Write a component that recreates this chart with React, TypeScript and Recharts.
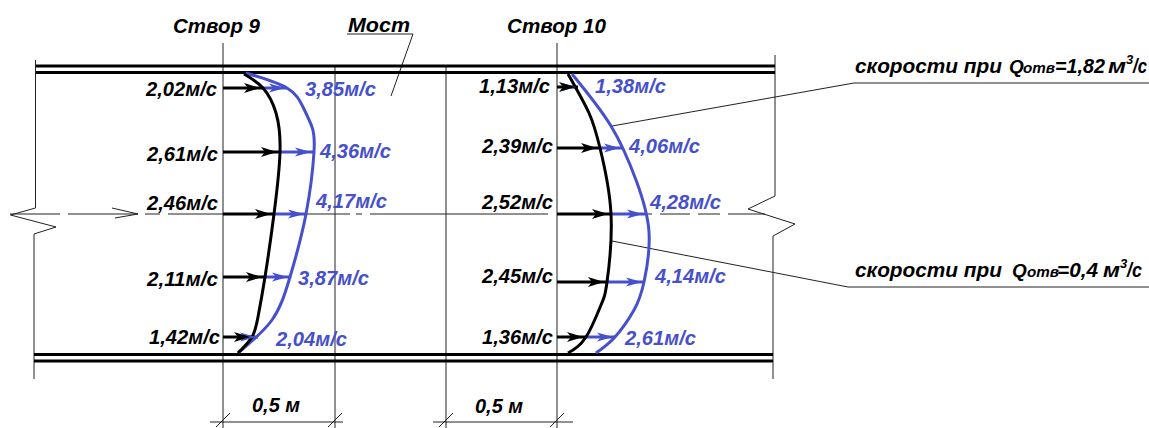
import { ComposedChart, Line, Scatter, XAxis, YAxis } from 'recharts'

const WIDTH = 1149
const HEIGHT = 428
const BLACK = '#000000'
const BLUE = '#4650cc'
const FONT = '"Liberation Sans", Arial, sans-serif'

type Pt = { x: number; y: number }
const pts = (xs: number[], ys: number[]): Pt[] => xs.map((x, i) => ({ x, y: ys[i] }))
const fmt = (v: number) => v.toFixed(2).replace('.', ',') + 'м/с'

// measured velocities, m/s, top to bottom
const lowFlow9 = [2.02, 2.61, 2.46, 2.11, 1.42]
const highFlow9 = [3.85, 4.36, 4.17, 3.87, 2.04]
const lowFlow10 = [1.13, 2.39, 2.52, 2.45, 1.36]
const highFlow10 = [1.38, 4.06, 4.28, 4.14, 2.61]

// arrow levels and where each profile crosses them
const levels9 = [88, 152, 214, 277, 337]
const levels10 = [87, 148, 214, 282, 337]
const lowTips9 = [263, 280, 274, 265, 253]
const highTips9 = [287, 313, 306, 290, 258]
const lowTips10 = [578, 600, 611, 607, 586]
const highTips10 = [578, 622, 645, 644, 615]
const station9 = 223
const station10 = 557

// velocity profiles
const lowCurve9Y = [74, 88, 113, 152, 214, 277, 317, 337, 353]
const lowCurve9X = [244, 263, 276, 280, 274, 265, 258, 252, 238]
const highCurve9Y = [73, 88, 107, 127, 152, 214, 277, 320, 353]
const highCurve9X = [246, 287, 303, 312, 314, 306, 290, 272, 238]
const lowCurve10Y = [74, 113, 148, 214, 282, 305, 337, 353]
const lowCurve10X = [568, 589, 600, 611, 607, 601, 586, 568]
const highCurve10Y = [74, 126, 180, 232, 282, 310, 337, 353]
const highCurve10X = [572, 611, 636, 649, 644, 634, 615, 596]

// label anchors
const lowLabelX9 = [146, 147, 147, 147, 149]
const lowLabelY9 = [96, 161, 210, 286, 344]
const highLabelX9 = [305, 320, 316, 298, 276]
const highLabelY9 = [96, 158, 208, 285, 346]
const lowLabelX10 = [479, 482, 482, 482, 482]
const lowLabelY10 = [93, 153, 209, 283, 344]
const highLabelX10 = [595, 629, 650, 655, 625]
const highLabelY10 = [93, 153, 209, 283, 345]

// drawing frame
const wallLines = [
  pts([36, 775], [66, 66]),
  pts([36, 775], [72.5, 72.5]),
  pts([34, 773], [354.5, 354.5]),
  pts([34, 773], [361, 361]),
]
const thinLines = [
  pts([35.5, 35.5, 10.5, 56, 34, 34], [60, 208, 215, 227, 234, 379]),
  pts([775, 775, 748, 795, 773, 773], [55, 196, 209, 224, 236, 379]),
  pts([223, 223], [43, 428]),
  pts([335, 335], [66, 428]),
  pts([446, 446], [66, 428]),
  pts([557, 557], [43, 428]),
  pts([347, 413, 391], [34, 34, 96]),
  pts([612, 854, 1149], [126, 83, 83]),
  pts([612, 848, 1149], [241, 287, 287]),
  pts([210, 343], [422, 422]),
  pts([216, 230], [427, 413]),
  pts([328, 342], [427, 413]),
  pts([433, 573], [422, 422]),
  pts([439, 453], [427, 413]),
  pts([550, 564], [427, 413]),
  pts([10, 60], [214, 214]),
  pts([68, 138], [214, 214]),
  pts([112, 138, 115], [208, 214, 218]),
  pts([145, 160], [214, 214]),
  pts([168, 350], [214, 214]),
  pts([356, 362], [214, 214]),
  pts([370, 548], [214, 214]),
  pts([557, 652], [214, 214]),
  pts([660, 690], [214, 214]),
  pts([698, 720], [214, 214]),
  pts([728, 765], [214, 214]),
]

const titles = ['Створ 9', 'Мост', 'Створ 10', '0,5 м', '0,5 м']
const titleX = [173, 348, 507, 252, 475]
const titleY = [33, 32, 33, 412, 413]
const titleW = [87, 62, 99, 48, 48]

const arrowPair = (from: number[], to: number[], ys: number[]) =>
  from.map((x, i) => pts([x, to[i]], [ys[i], ys[i]]))

const velocityLabels = (vals: number[], xs: number[], ys: number[]) =>
  vals.map((v, i) => ({ x: xs[i], y: ys[i], text: fmt(v), w: 71 }))

const Label = (color: string, size = 20.5) => (props: any) => (
  <text
    x={props.cx}
    y={props.cy}
    fill={color}
    fontFamily={FONT}
    fontWeight="bold"
    fontStyle="italic"
    fontSize={size}
    textLength={props.payload.w}
    lengthAdjust="spacingAndGlyphs"
  >
    {props.payload.text}
  </text>
)

const Head = (color: string, len: number, half: number) => (props: any) => (
  <path
    d={`M${props.cx} ${props.cy}L${props.cx - len} ${props.cy - half}L${props.cx - len * 0.75} ${props.cy}L${props.cx - len} ${props.cy + half}Z`}
    fill={color}
  />
)

// the two callouts mix sizes, so each piece sits on its own
const Callout = (props: any) => {
  const { flow, qx, subx, eqx, eqw, mx, mw, supx, slashx, slashw } = props.payload
  const base = { fontFamily: FONT, fontWeight: 'bold', fontStyle: 'italic', fill: BLACK }
  const y = props.cy
  const fit = (w: number) => ({ textLength: w, lengthAdjust: 'spacingAndGlyphs' })
  return (
    <g {...base}>
      <text x={props.cx} y={y} fontSize={20} {...fit(147)}>скорости при</text>
      <text x={qx} y={y} fontSize={19}>Q</text>
      <text x={subx} y={y} fontSize={14} {...fit(32)}>отв</text>
      <text x={eqx} y={y} fontSize={20} {...fit(eqw)}>{flow}</text>
      <text x={mx} y={y} fontSize={20} {...fit(mw)}>м</text>
      <text x={supx} y={y - 9} fontSize={13}>3</text>
      <text x={slashx} y={y} fontSize={20} {...fit(slashw)}>/с</text>
    </g>
  )
}

const callouts = [
  { x: 855, y: 73, flow: '=1,82', qx: 1009, subx: 1023, eqx: 1055, eqw: 50, mx: 1108, mw: 18, supx: 1126, slashx: 1133, slashw: 14 },
  { x: 855, y: 277, flow: '=0,4', qx: 1012, subx: 1027, eqx: 1057, eqw: 41, mx: 1103, mw: 17, supx: 1120, slashx: 1127, slashw: 15 },
]

export default function App() {
  const blackShafts = [
    ...arrowPair(levels9.map(() => station9), lowTips9, levels9),
    ...arrowPair(levels10.map(() => station10), lowTips10, levels10),
  ]
  const blueShafts = [
    ...arrowPair(lowTips9, highTips9, levels9),
    ...arrowPair(lowTips10, highTips10, levels10),
  ]
  const blackHeads = [
    ...pts(lowTips9.map(x => x - 3), levels9),
    ...pts(lowTips10.map(x => x - 3), levels10),
  ]
  const blueHeads = [
    ...pts(highTips9.map(x => x - 2), levels9),
    ...pts(highTips10.map(x => x - 2), levels10),
  ]
  const blackLabels = [
    ...velocityLabels(lowFlow9, lowLabelX9, lowLabelY9),
    ...velocityLabels(lowFlow10, lowLabelX10, lowLabelY10),
  ]
  const blueLabels = [
    ...velocityLabels(highFlow9, highLabelX9, highLabelY9),
    ...velocityLabels(highFlow10, highLabelX10, highLabelY10),
  ]
  const titleLabels = titles.map((text, i) => ({ x: titleX[i], y: titleY[i], text, w: titleW[i] }))

  const plain = (data: Pt[], key: string, color: string, width: number, type: any = 'linear') => (
    <Line
      key={key}
      data={data}
      dataKey="y"
      type={type}
      stroke={color}
      strokeWidth={width}
      dot={false}
      activeDot={false}
      legendType="none"
      isAnimationActive={false}
    />
  )

  return (
    <div style={{ position: 'absolute', left: 0, top: 0, width: WIDTH, height: HEIGHT, background: '#fff' }}>
      <ComposedChart width={WIDTH} height={HEIGHT} margin={{ top: 0, right: 0, bottom: 0, left: 0 }}>
        <XAxis type="number" dataKey="x" domain={[0, WIDTH]} hide allowDataOverflow />
        <YAxis type="number" dataKey="y" domain={[0, HEIGHT]} reversed hide allowDataOverflow />
        {thinLines.map((d, i) => plain(d, `thin${i}`, '#222222', 1))}
        {wallLines.map((d, i) => plain(d, `wall${i}`, BLACK, 3))}
        {blueShafts.map((d, i) => plain(d, `blue${i}`, BLUE, 3))}
        {blackShafts.map((d, i) => plain(d, `shaft${i}`, BLACK, 3))}
        {plain(pts(highCurve9X, highCurve9Y), 'high9', BLUE, 3, 'natural')}
        {plain(pts(highCurve10X, highCurve10Y), 'high10', BLUE, 3, 'natural')}
        {plain(pts(lowCurve9X, lowCurve9Y), 'low9', BLACK, 3, 'natural')}
        {plain(pts(lowCurve10X, lowCurve10Y), 'low10', BLACK, 3, 'natural')}
        <Scatter data={blueHeads} shape={Head(BLUE, 16, 4.5)} isAnimationActive={false} legendType="none" />
        <Scatter data={blackHeads} shape={Head(BLACK, 16, 5)} isAnimationActive={false} legendType="none" />
        <Scatter data={blackLabels} shape={Label(BLACK)} isAnimationActive={false} legendType="none" />
        <Scatter data={blueLabels} shape={Label(BLUE)} isAnimationActive={false} legendType="none" />
        <Scatter data={titleLabels} shape={Label(BLACK)} isAnimationActive={false} legendType="none" />
        <Scatter data={callouts} shape={Callout} isAnimationActive={false} legendType="none" />
      </ComposedChart>
    </div>
  )
}
